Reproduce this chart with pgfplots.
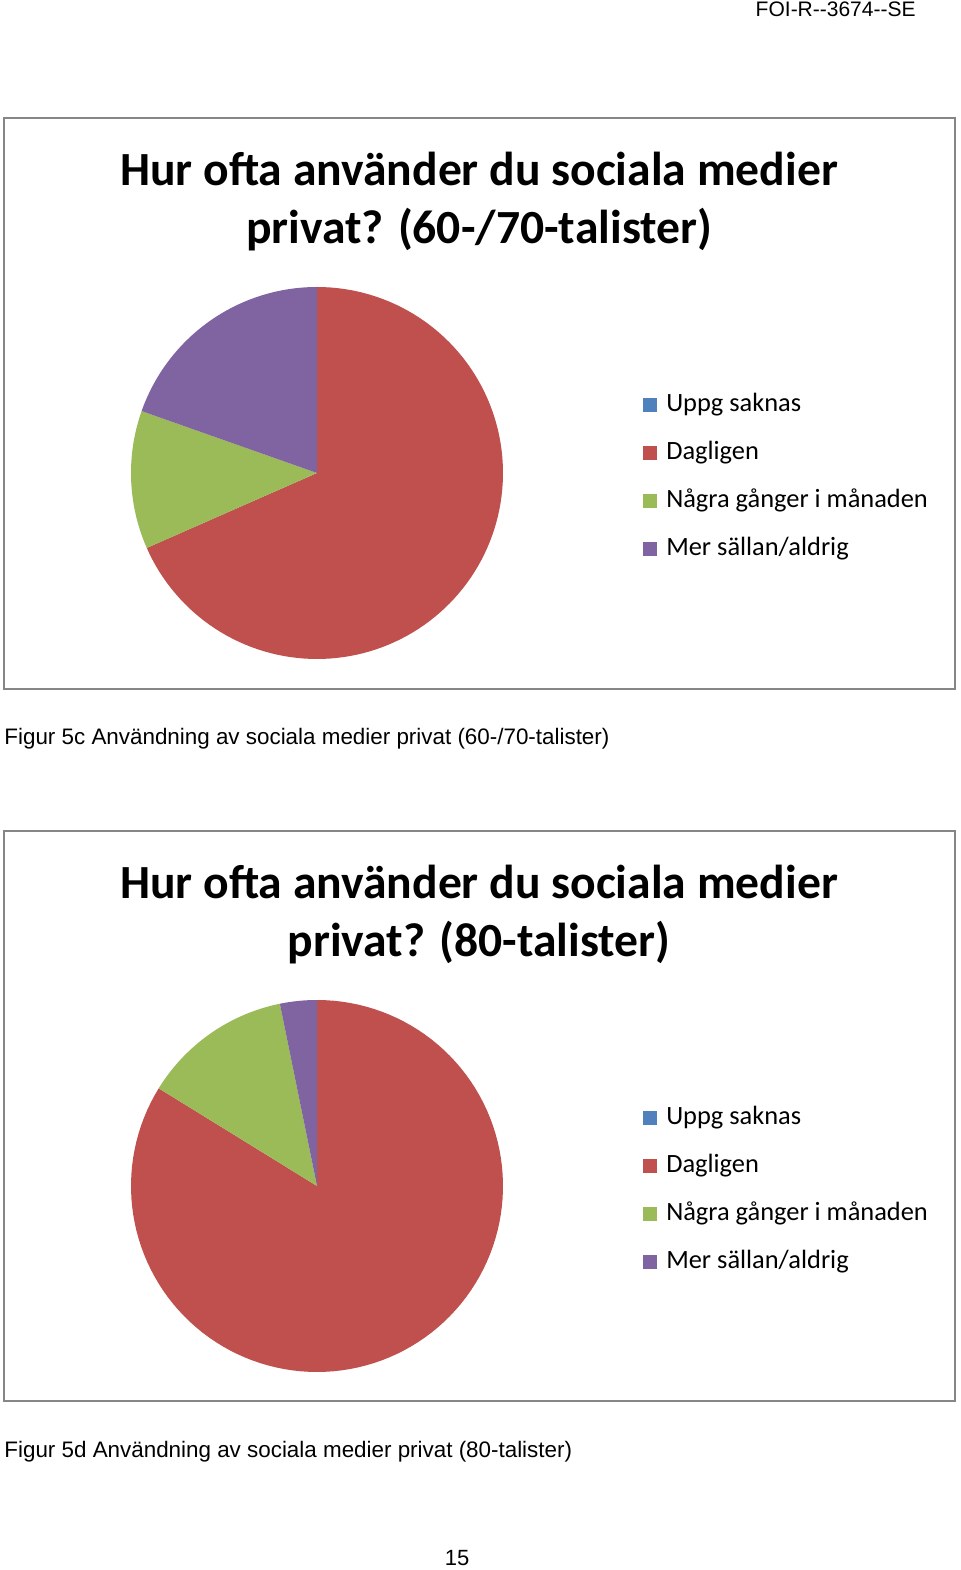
\documentclass[border=0pt]{standalone}
\usepackage{fontspec}
\setmainfont{Liberation Sans}
\newfontfamily\carlito{Carlito}
\usepackage{pgfplots}
\pgfplotsset{compat=1.18}
\definecolor{cBlue}{HTML}{4F81BD}
\definecolor{cRed}{HTML}{C0504D}
\definecolor{cGreen}{HTML}{9BBB59}
\definecolor{cPurple}{HTML}{8064A2}
\definecolor{frameGray}{RGB}{134,134,134}
% shares in percent (Uppg saknas, Dagligen, Några gånger i månaden, Mer sällan/aldrig)
\def\aUppg{0}\def\aDag{68.4}\def\aNag{12.0}\def\aMer{19.6}
\def\bUppg{0}\def\bDag{83.8}\def\bNag{13.0}\def\bMer{3.2}
\pgfmathsetmacro\aS{90-3.6*\aUppg}
\pgfmathsetmacro\aT{\aS-3.6*\aDag}
\pgfmathsetmacro\aU{\aT-3.6*\aNag}
\pgfmathsetmacro\aV{\aU-3.6*\aMer}
\pgfmathsetmacro\bS{90-3.6*\bUppg}
\pgfmathsetmacro\bT{\bS-3.6*\bDag}
\pgfmathsetmacro\bU{\bT-3.6*\bNag}
\pgfmathsetmacro\bV{\bU-3.6*\bMer}
\pgfplotsset{
  piestyle/.style={
    x=93pt, y=93pt, xmin=-1, xmax=1, ymin=-1, ymax=1,
    hide axis, clip=false, anchor=center,
    legend image code/.code={\fill[##1] (0pt,-3.5pt) rectangle (7pt,3.5pt);},
    legend style={at={(1.376,0.489)}, anchor=west, draw=none, fill=none,
      inner sep=0pt, row sep=12pt, column sep=4.5pt,
      font=\carlito\fontsize{13.2pt}{15pt}\selectfont,
      nodes={inner sep=0pt, text height=9pt, text depth=3pt}},
    legend cell align=left,
  },
  slice/.style={draw=none, samples=120, variable=\t, forget plot},
}
\begin{document}
\begin{tikzpicture}
\fill[white] (0pt,0pt) rectangle (480pt,785pt);
% header
\node[anchor=base east, inner sep=0pt, font=\fontsize{10.5pt}{12pt}\selectfont] at (458pt,776.5pt) {FOI-R-{}-3674-{}-SE};
% frames
\draw[frameGray, line width=0.9pt] (2pt,726pt) rectangle (477.5pt,440.5pt);
\draw[frameGray, line width=0.9pt] (2pt,369.5pt) rectangle (477.5pt,84.5pt);
% titles
\node[anchor=base, inner sep=0pt, font=\carlito\bfseries\fontsize{23.8pt}{28pt}\selectfont] at (239.5pt,692pt) {Hur ofta använder du sociala medier};
\node[anchor=base, inner sep=0pt, font=\carlito\bfseries\fontsize{23.8pt}{28pt}\selectfont] at (239.5pt,663pt) {privat? (60-/70-talister)};
\node[anchor=base, inner sep=0pt, font=\carlito\bfseries\fontsize{23.8pt}{28pt}\selectfont] at (239.5pt,335.5pt) {Hur ofta använder du sociala medier};
\node[anchor=base, inner sep=0pt, font=\carlito\bfseries\fontsize{23.8pt}{28pt}\selectfont] at (239.5pt,306.5pt) {privat? (80-talister)};
% pie 1
\begin{axis}[piestyle, at={(158.5pt,548.5pt)}]
\addlegendimage{fill=cBlue, draw=none}
\addlegendimage{fill=cRed, draw=none}
\addlegendimage{fill=cGreen, draw=none}
\addlegendimage{fill=cPurple, draw=none}
\addplot[slice, fill=cRed, domain=\aT:\aS] ({cos(\t)},{sin(\t)}) -- (axis cs:0,0) -- cycle;
\addplot[slice, fill=cGreen, domain=\aU:\aT] ({cos(\t)},{sin(\t)}) -- (axis cs:0,0) -- cycle;
\addplot[slice, fill=cPurple, domain=\aV:\aU] ({cos(\t)},{sin(\t)}) -- (axis cs:0,0) -- cycle;
\legend{Uppg saknas, Dagligen, Några gånger i månaden, Mer sällan/aldrig}
\end{axis}
% pie 2
\begin{axis}[piestyle, at={(158.5pt,192pt)}]
\addlegendimage{fill=cBlue, draw=none}
\addlegendimage{fill=cRed, draw=none}
\addlegendimage{fill=cGreen, draw=none}
\addlegendimage{fill=cPurple, draw=none}
\addplot[slice, fill=cRed, domain=\bT:\bS] ({cos(\t)},{sin(\t)}) -- (axis cs:0,0) -- cycle;
\addplot[slice, fill=cGreen, domain=\bU:\bT] ({cos(\t)},{sin(\t)}) -- (axis cs:0,0) -- cycle;
\addplot[slice, fill=cPurple, domain=\bV:\bU] ({cos(\t)},{sin(\t)}) -- (axis cs:0,0) -- cycle;
\legend{Uppg saknas, Dagligen, Några gånger i månaden, Mer sällan/aldrig}
\end{axis}
% captions
\node[anchor=base west, inner sep=0pt, font=\fontsize{11.2pt}{13pt}\selectfont] at (2pt,412.5pt) {Figur 5c Användning av sociala medier privat (60-/70-talister)};
\node[anchor=base west, inner sep=0pt, font=\fontsize{11.2pt}{13pt}\selectfont] at (2pt,56pt) {Figur 5d Användning av sociala medier privat (80-talister)};
% page number
\node[anchor=base, inner sep=0pt, font=\fontsize{11pt}{13pt}\selectfont] at (228.5pt,2pt) {15};
\end{tikzpicture}
\end{document}
